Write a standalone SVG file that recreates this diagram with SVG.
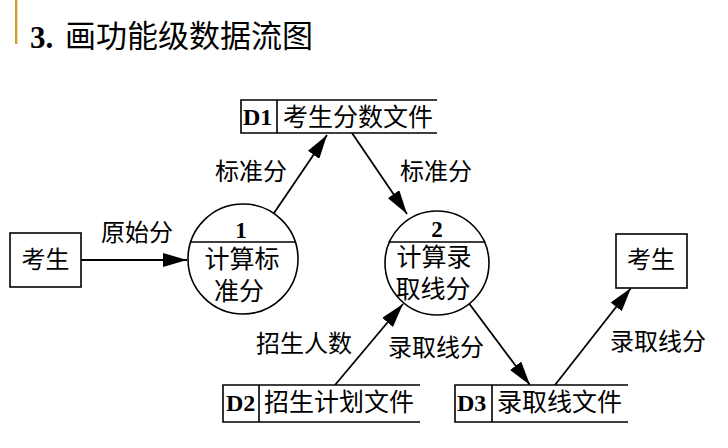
<svg xmlns="http://www.w3.org/2000/svg" width="728" height="448" viewBox="0 0 728 448">
<style>
.cjk{font-family:"Noto Sans CJK SC","Noto Sans CJK JP",sans-serif;fill:#000}
.lbl{font-size:24px;text-anchor:middle}
.nt{font-size:25px}
.num{font-family:"Liberation Serif",serif;font-weight:bold;fill:#000}
.shape{fill:#fff;stroke:#000;stroke-width:1.6}
.ln{fill:none;stroke:#000;stroke-width:1.6}
.conn{fill:none;stroke:#000;stroke-width:1.8}
</style>
<defs>
<marker id="ah" viewBox="0 0 24 14" markerWidth="24" markerHeight="14" refX="24" refY="7" orient="auto" markerUnits="userSpaceOnUse">
<path d="M0,0 L24,7 L0,14 z" fill="#000"/>
</marker>
</defs>
<rect width="728" height="448" fill="#fff"/>
<rect x="15" y="0" width="2.4" height="44" fill="#D1A02A"/>
<text x="30" y="48" class="num" font-size="31">3.</text>
<text x="65" y="47" class="cjk" font-size="31">画功能级数据流图</text>

<g id="connectors">
<path class="conn" d="M81,260 L187,260" marker-end="url(#ah)"/>
<path class="conn" d="M272,216 L327,135" marker-end="url(#ah)"/>
<path class="conn" d="M352,133 L407,214" marker-end="url(#ah)"/>
<path class="conn" d="M335,385 L403,304" marker-end="url(#ah)"/>
<path class="conn" d="M468,302 L530,385" marker-end="url(#ah)"/>
<path class="conn" d="M555,385 L631,288" marker-end="url(#ah)"/>
<text class="cjk lbl" x="137" y="241">原始分</text>
<text class="cjk lbl" x="251" y="180">标准分</text>
<text class="cjk lbl" x="436" y="180">标准分</text>
<text class="cjk lbl" x="304" y="352">招生人数</text>
<text class="cjk lbl" x="436" y="356">录取线分</text>
<text class="cjk lbl" x="658" y="350">录取线分</text>
</g>

<g id="src-student">
<rect class="shape" x="10" y="233" width="71" height="54"/>
<text class="cjk lbl" x="45.5" y="268">考生</text>
</g>

<g id="sink-student">
<rect class="shape" x="616" y="234" width="71" height="54"/>
<text class="cjk lbl" x="651" y="268">考生</text>
</g>

<g id="p1">
<circle class="shape" cx="243" cy="259" r="55"/>
<line class="ln" x1="190.3" y1="242" x2="295.7" y2="242"/>
<text class="num" x="241" y="238" font-size="23" text-anchor="middle">1</text>
<text class="cjk nt" x="242" y="268" text-anchor="middle">计算标</text>
<text class="cjk nt" x="239" y="300" text-anchor="middle">准分</text>
</g>

<g id="p2">
<circle class="shape" cx="437" cy="263" r="52"/>
<line class="ln" x1="388.6" y1="242" x2="485.4" y2="242"/>
<text class="num" x="437" y="237" font-size="23" text-anchor="middle">2</text>
<text class="cjk nt" x="434" y="266" text-anchor="middle">计算录</text>
<text class="cjk nt" x="433" y="298" text-anchor="middle">取线分</text>
</g>

<g id="d1">
<rect x="241" y="100" width="196" height="33" fill="#fff"/>
<path class="ln" d="M437,100 H241 V133 H437 M277,100 V133"/>
<text class="num" x="243" y="125" font-size="24">D1</text>
<text class="cjk nt" x="283" y="126">考生分数文件</text>
</g>

<g id="d2">
<rect x="223" y="385" width="197" height="37" fill="#fff"/>
<path class="ln" d="M420,385 H223 V422 H420 M259,385 V422"/>
<text class="num" x="226" y="411" font-size="24">D2</text>
<text class="cjk nt" x="264" y="411">招生计划文件</text>
</g>

<g id="d3">
<rect x="455" y="385" width="173" height="37" fill="#fff"/>
<path class="ln" d="M628,385 H455 V422 H628 M492,385 V422"/>
<text class="num" x="457" y="411" font-size="24">D3</text>
<text class="cjk nt" x="497" y="411">录取线文件</text>
</g>
</svg>
